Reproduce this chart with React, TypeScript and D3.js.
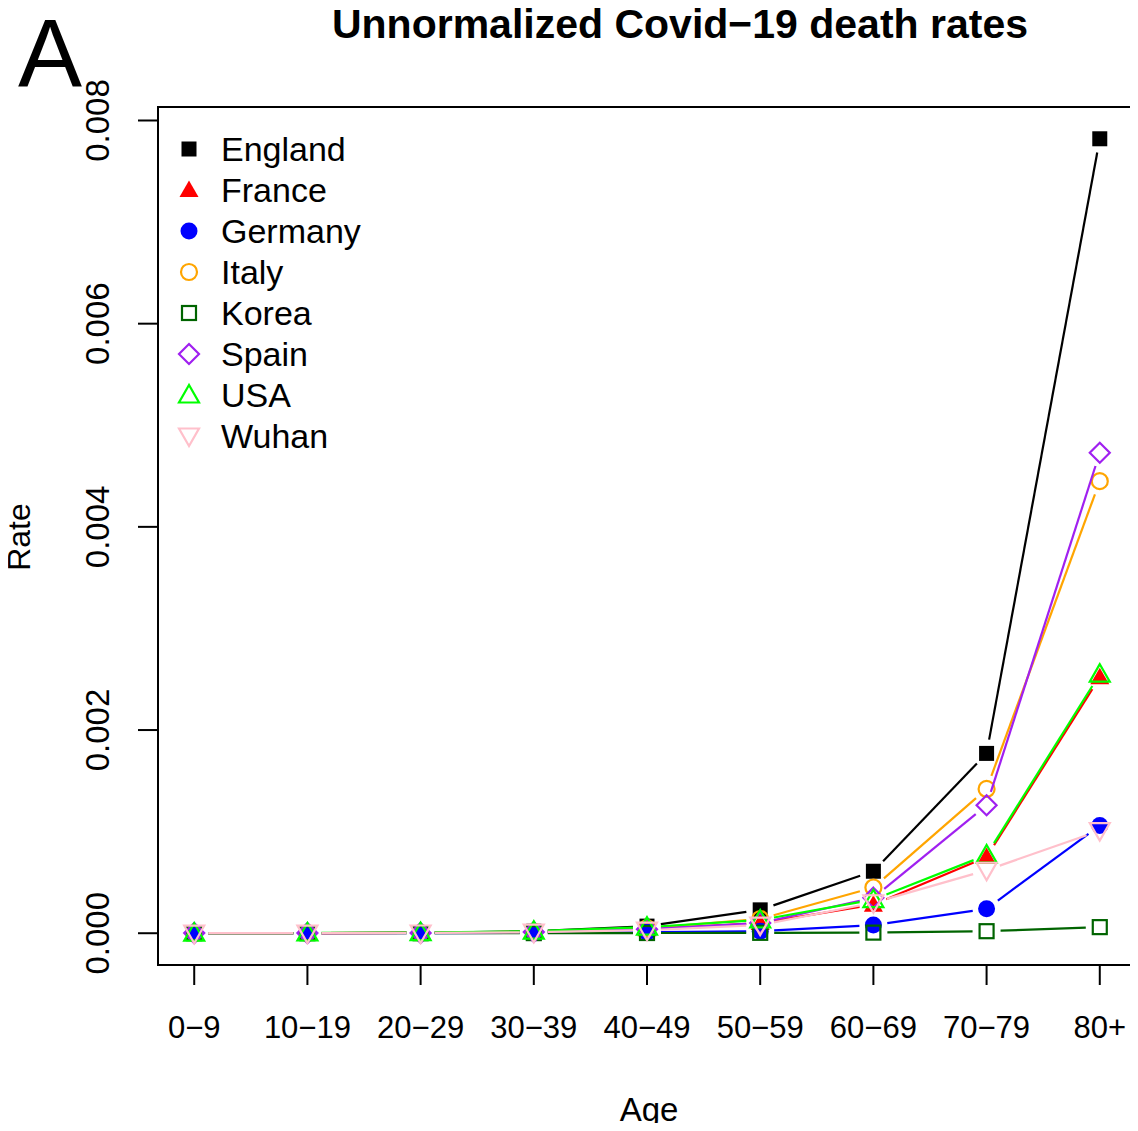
import React from "react";
import * as d3 from "d3";

const ageGroups = ["0−9", "10−19", "20−29", "30−39", "40−49", "50−59", "60−69", "70−79", "80+"];
const england = [0.000002, 0.000002, 0.000004, 0.00002, 0.00007, 0.00023, 0.00061, 0.00177, 0.00782];
const france = [0.000001, 0.000001, 0.000003, 0.000012, 0.00004, 0.0001, 0.00028, 0.00075, 0.00252];
const germany = [0.0, 0.0, 0.000001, 0.000004, 0.00001, 0.00002, 0.00008, 0.00024, 0.00106];
const italy = [0.000001, 0.000001, 0.000003, 0.000015, 0.00005, 0.00014, 0.00045, 0.00142, 0.00445];
const korea = [0.0, 0.0, 0.0, 0.000001, 0.000002, 0.000004, 0.000006, 0.00002, 0.00006];
const spain = [0.000001, 0.000001, 0.000003, 0.000012, 0.00004, 0.0001, 0.00035, 0.00126, 0.00473];
const usa = [0.000001, 0.000002, 0.000006, 0.00002, 0.00006, 0.00013, 0.00033, 0.00077, 0.00255];
const wuhan = [0.0, 0.000001, 0.000002, 0.00001, 0.00003, 0.00008, 0.0003, 0.00062, 0.00101];
const yTicks = [0, 0.002, 0.004, 0.006, 0.008];

const seriesNames = ["England", "France", "Germany", "Italy", "Korea", "Spain", "USA", "Wuhan"];
const seriesValues = [england, france, germany, italy, korea, spain, usa, wuhan];
const seriesColors = ["#000000", "#FF0000", "#0000FF", "#FFA500", "#006400", "#A020F0", "#00FF00", "#FFC0CB"];
const seriesShapes = ["sqFill", "triFill", "circFill", "circ", "sq", "diam", "tri", "triDown"];

const FONT = "'Liberation Sans', Arial, Helvetica, sans-serif";

function Marker({ shape, x, y, color }: { shape: string; x: number; y: number; color: string }) {
  const s = 8;
  const sw = 2.2;
  switch (shape) {
    case "sqFill":
      return <rect x={x - 7.5} y={y - 7.5} width={15} height={15} fill={color} />;
    case "triFill": {
      const h = 9.5;
      return <polygon points={`${x},${y - h} ${x - 9.5},${y + 7} ${x + 9.5},${y + 7}`} fill={color} />;
    }
    case "circFill":
      return <circle cx={x} cy={y} r={8.5} fill={color} />;
    case "circ":
      return <circle cx={x} cy={y} r={s} fill="none" stroke={color} strokeWidth={sw} />;
    case "sq":
      return <rect x={x - 7} y={y - 7} width={14} height={14} fill="none" stroke={color} strokeWidth={sw} />;
    case "diam":
      return (
        <polygon points={`${x},${y - 10} ${x + 10},${y} ${x},${y + 10} ${x - 10},${y}`} fill="none" stroke={color} strokeWidth={sw} />
      );
    case "tri":
      return <polygon points={`${x},${y - 10} ${x - 10},${y + 7.5} ${x + 10},${y + 7.5}`} fill="none" stroke={color} strokeWidth={sw} />;
    case "triDown":
      return <polygon points={`${x},${y + 10} ${x - 10},${y - 7.5} ${x + 10},${y - 7.5}`} fill="none" stroke={color} strokeWidth={sw} />;
    default:
      return null;
  }
}

export default function App() {
  const W = 1138;
  const H = 1131;
  const left = 158, right = 1136, top = 107, bottom = 965;

  const x = d3.scaleLinear().domain([0.68, 9.32]).range([left, right]);
  const yMax = d3.max(england)!;
  const pad = yMax * 0.04;
  const y = d3.scaleLinear().domain([-pad, yMax + pad]).range([bottom, top]);

  const gap = 14;

  return (
    <div style={{ margin: -8 }}>
      <svg width={W} height={H} style={{ display: "block", background: "#fff" }} fontFamily={FONT}>
        <rect x={0} y={0} width={W} height={H} fill="#fff" />
        <text x={18} y={86} fontSize={96} fill="#000">A</text>
        <text x={680} y={38} fontSize={41} fontWeight="bold" textAnchor="middle" fill="#000">
          Unnormalized Covid−19 death rates
        </text>

        {/* series */}
        {seriesValues.map((vals, si) => {
          const pts = vals.map((v, i) => [x(i + 1), y(v)] as [number, number]);
          const segs = [] as React.ReactNode[];
          for (let i = 0; i < pts.length - 1; i++) {
            const [x0, y0] = pts[i];
            const [x1, y1] = pts[i + 1];
            const dx = x1 - x0, dy = y1 - y0;
            const len = Math.hypot(dx, dy);
            if (len <= 2 * gap) continue;
            const ux = dx / len, uy = dy / len;
            segs.push(
              <line key={i} x1={x0 + ux * gap} y1={y0 + uy * gap} x2={x1 - ux * gap} y2={y1 - uy * gap}
                stroke={seriesColors[si]} strokeWidth={2.2} />
            );
          }
          return (
            <g key={seriesNames[si]}>
              {segs}
              {pts.map((p, i) => (
                <Marker key={i} shape={seriesShapes[si]} x={p[0]} y={p[1]} color={seriesColors[si]} />
              ))}
            </g>
          );
        })}

        {/* box */}
        <rect x={left} y={top} width={right - left} height={bottom - top} fill="none" stroke="#000" strokeWidth={2} />

        {/* x axis */}
        {ageGroups.map((g, i) => (
          <g key={g}>
            <line x1={x(i + 1)} x2={x(i + 1)} y1={bottom} y2={bottom + 20} stroke="#000" strokeWidth={2} />
            <text x={x(i + 1)} y={1038} fontSize={31} textAnchor="middle" fill="#000">{g}</text>
          </g>
        ))}
        <text x={649} y={1121} fontSize={33} textAnchor="middle" fill="#000">Age</text>

        {/* y axis */}
        {yTicks.map((t) => (
          <g key={t}>
            <line x1={left - 20} x2={left} y1={y(t)} y2={y(t)} stroke="#000" strokeWidth={2} />
            <text transform={`translate(${109},${y(t)}) rotate(-90)`} fontSize={33} textAnchor="middle" fill="#000">
              {t.toFixed(3)}
            </text>
          </g>
        ))}
        <text transform={`translate(${30},${537}) rotate(-90)`} fontSize={32} textAnchor="middle" fill="#000">Rate</text>

        {/* legend */}
        {seriesNames.map((n, i) => {
          const ly = 149 + i * 41;
          return (
            <g key={n}>
              <Marker shape={seriesShapes[i]} x={189} y={ly} color={seriesColors[i]} />
              <text x={221} y={ly + 12} fontSize={34} fill="#000">{n}</text>
            </g>
          );
        })}
      </svg>
    </div>
  );
}
